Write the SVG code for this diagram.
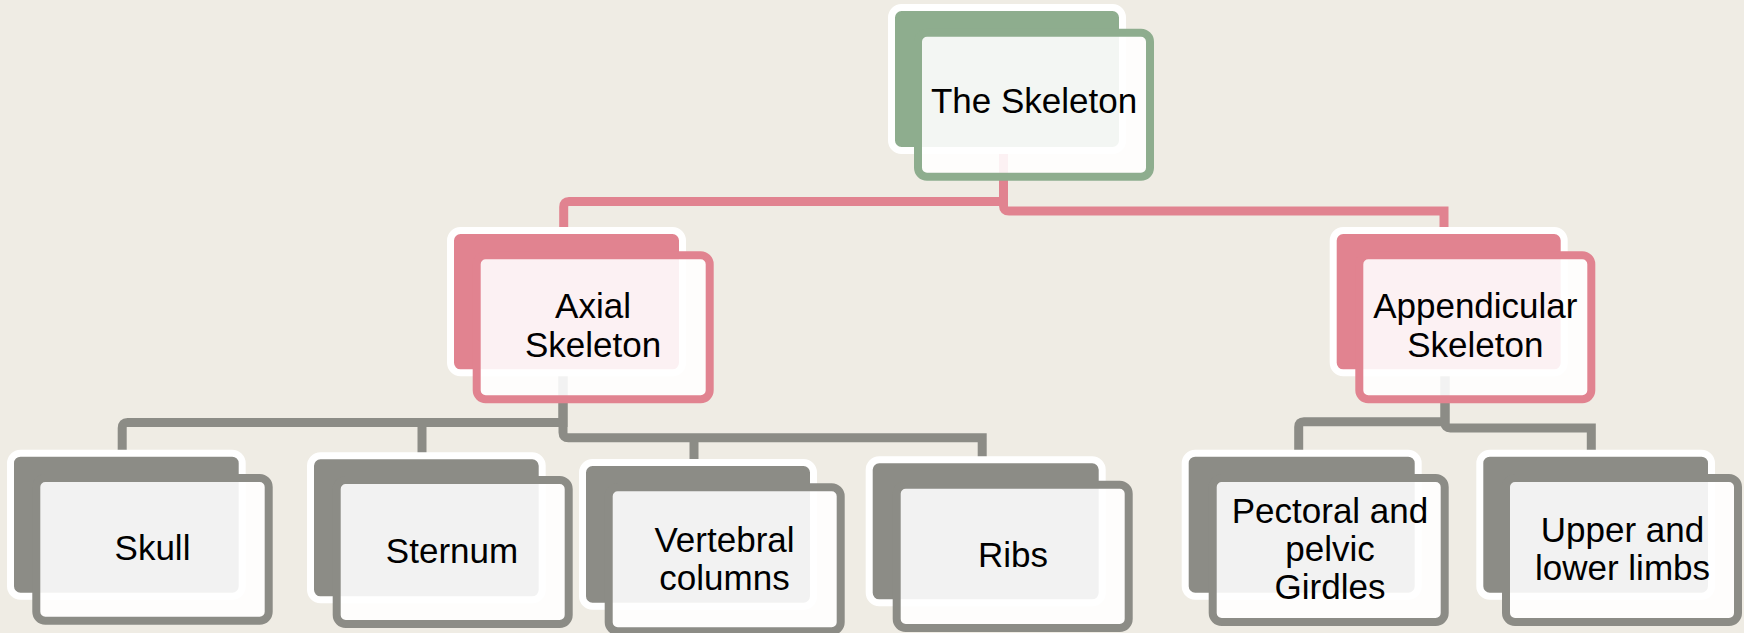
<svg xmlns="http://www.w3.org/2000/svg" width="1744" height="633" viewBox="0 0 1744 633">
<style>
.bg{fill:#EFECE4}
.bk{stroke:#FFFFFF;stroke-width:7}
.fr{fill:#FFFFFF;fill-opacity:0.89;stroke-width:8}
.g .bk{fill:#8EAD8E}.g .fr{stroke:#8EAD8E}
.p .bk{fill:#E18390}.p .fr{stroke:#E18390}
.k .bk{fill:#8C8C86}.k .fr{stroke:#8C8C86}
.c{fill:none;stroke-width:9}
.cp{stroke:#E18390}
.cg{stroke:#8C8C86}
text{font-family:"Liberation Sans",Arial,sans-serif;font-size:35px;fill:#000;text-anchor:middle}
</style>
<rect class="bg" x="0" y="0" width="1744" height="633"/>
<g id="connectors">
<path class="c cp" d="M1003.5,140 V201.6 H569 Q563.7,201.6 563.7,207 V232"/>
<path class="c cp" d="M1003.5,140 V205.7 Q1003.5,211 1009,211 H1444 V232"/>
<path class="c cg" d="M563,360 V422.5 H127.5 Q122.2,422.5 122.2,428 V454"/>
<path class="c cg" d="M422,422.5 V456"/>
<path class="c cg" d="M563,360 V432.5 Q563,437.7 568.5,437.7 H982.2 V460"/>
<path class="c cg" d="M694,437.7 V463"/>
<path class="c cg" d="M1445,360 V421.7 H1304 Q1298.7,421.7 1298.7,427 V454"/>
<path class="c cg" d="M1445,360 V422.7 Q1445,428 1450.3,428 H1591.3 V454"/>
</g>
<g id="node-skeleton" class="g">
<rect class="bk" x="891.5" y="7.5" width="231" height="143" rx="10"/>
<rect class="fr" x="918" y="32.7" width="232" height="144" rx="9"/>
<text x="1034" y="113">The Skeleton</text>
</g>
<g id="node-axial" class="p">
<rect class="bk" x="450.5" y="230.5" width="232" height="142.3" rx="10"/>
<rect class="fr" x="476.7" y="255.3" width="233" height="144" rx="9"/>
<text x="593" y="318.3">Axial</text>
<text x="593" y="357.3">Skeleton</text>
</g>
<g id="node-appendicular" class="p">
<rect class="bk" x="1333.2" y="230.5" width="231" height="142.3" rx="10"/>
<rect class="fr" x="1359.3" y="255.3" width="232" height="144" rx="9"/>
<text x="1475.3" y="318.3">Appendicular</text>
<text x="1475.3" y="357.3">Skeleton</text>
</g>
<g id="node-skull" class="k">
<rect class="bk" x="10.5" y="453.2" width="231.7" height="143" rx="10"/>
<rect class="fr" x="36.3" y="478" width="232.4" height="142.7" rx="9"/>
<text x="152.5" y="560">Skull</text>
</g>
<g id="node-sternum" class="k">
<rect class="bk" x="310.5" y="455.8" width="231.7" height="144" rx="10"/>
<rect class="fr" x="336.7" y="480" width="232" height="144" rx="9"/>
<text x="452" y="563.3">Sternum</text>
</g>
<g id="node-vertebral" class="k">
<rect class="bk" x="582.5" y="462.5" width="231" height="143.7" rx="10"/>
<rect class="fr" x="608.7" y="487.3" width="232" height="144" rx="9"/>
<text x="724.5" y="551.7">Vertebral</text>
<text x="724.5" y="590">columns</text>
</g>
<g id="node-ribs" class="k">
<rect class="bk" x="869.2" y="459.8" width="233" height="143" rx="10"/>
<rect class="fr" x="896.7" y="484.7" width="232" height="143.3" rx="9"/>
<text x="1013" y="566.7">Ribs</text>
</g>
<g id="node-pectoral" class="k">
<rect class="bk" x="1185.2" y="453.2" width="233" height="143" rx="10"/>
<rect class="fr" x="1212.7" y="478" width="232" height="144" rx="9"/>
<text x="1330" y="522.7">Pectoral and</text>
<text x="1330" y="560.7">pelvic</text>
<text x="1330" y="598.7">Girdles</text>
</g>
<g id="node-upper" class="k">
<rect class="bk" x="1479.8" y="453.2" width="231.7" height="143" rx="10"/>
<rect class="fr" x="1506" y="478" width="232" height="144" rx="9"/>
<text x="1622.5" y="541.7">Upper and</text>
<text x="1622.5" y="580">lower limbs</text>
</g>
</svg>
